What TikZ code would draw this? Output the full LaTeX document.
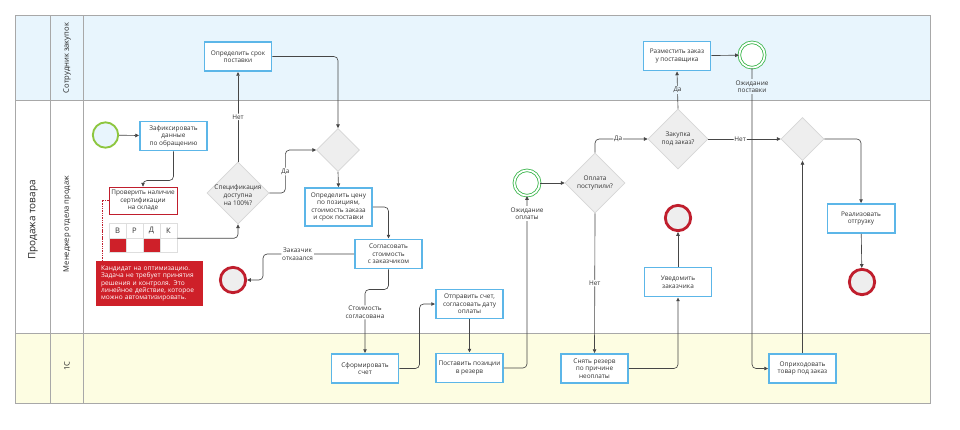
\documentclass[tikz,border=0pt]{standalone}
\usepackage{fontspec}
\setmainfont{Open Sans}
\usetikzlibrary{shapes.geometric,arrows.meta}

\definecolor{laneblue}{RGB}{232,245,253}
\definecolor{laneyellow}{RGB}{253,253,226}
\definecolor{lanegray}{RGB}{168,168,168}
\definecolor{taskblue}{RGB}{92,182,232}
\definecolor{gatefill}{RGB}{238,238,238}
\definecolor{gatedraw}{RGB}{214,214,214}
\definecolor{flowgray}{RGB}{70,70,70}
\definecolor{startgreen}{RGB}{141,198,63}
\definecolor{waitgreen}{RGB}{57,181,74}
\definecolor{endred}{RGB}{192,30,45}
\definecolor{notered}{RGB}{206,32,41}
\definecolor{racigray}{RGB}{222,222,222}

\newcommand\tasksize{\fontsize{5.5}{6.5}\selectfont}

\tikzset{
  lane/.style={draw=lanegray, line width=0.8pt},
  pooltitle/.style={font=\fontsize{8.5}{10}\selectfont, text=black!85},
  lanetitle/.style={font=\fontsize{6.5}{8}\selectfont, text=black!85},
  task/.style={rectangle, draw=taskblue, line width=1.4pt, fill=white,
    minimum width=20.2mm, minimum height=8.8mm, align=center, inner sep=1pt, text=black!80},
  gate/.style={diamond, draw=gatedraw, line width=0.6pt, fill=gatefill,
    minimum width=18mm, minimum height=18mm, inner sep=0pt},
  smallgate/.style={gate, minimum width=12.9mm, minimum height=12.9mm},
  gatetext/.style={align=center, inner sep=0pt, text=black!80},
  startev/.style={circle, draw=startgreen, line width=1.6pt, fill=laneblue,
    minimum size=7.6mm, inner sep=0pt},
  endev/.style={circle, draw=endred, line width=2.4pt, fill=gatefill,
    minimum size=7.6mm, inner sep=0pt},
  waitev/.style={circle, draw=waitgreen, line width=0.7pt, double=white,
    double distance=1.5pt, fill=white, minimum size=7.6mm, inner sep=0pt},
  check/.style={rectangle, draw=endred, line width=0.8pt, fill=white,
    minimum width=20.4mm, minimum height=8.1mm, align=center, inner sep=1pt, text=black!80},
  racihead/.style={rectangle, draw=racigray, line width=0.5pt, fill=white,
    minimum width=5.1mm, minimum height=4.5mm, inner sep=0pt, text=black!80,
    font=\fontsize{6.5}{7}\selectfont},
  racicell/.style={rectangle, draw=racigray, line width=0.5pt, fill=white,
    minimum width=5.1mm, minimum height=4.2mm, inner sep=0pt},
  note/.style={rectangle, fill=notered, text=white, text width=29mm,
    inner xsep=1.55mm, minimum height=13.5mm, align=left,
    font=\fontsize{5.6}{6.1}\selectfont},
  annot/.style={draw=endred, line width=0.5pt, dash pattern=on 1.2pt off 0.8pt},
  flow/.style={draw=flowgray, line width=0.55pt, -{Triangle[length=3.2pt,width=3pt]},
    rounded corners=3.5pt},
  lbl/.style={fill=white, inner sep=0.8pt, align=center, text=black!80},
  lblblue/.style={lbl, fill=laneblue}
}

\begin{document}
\begin{tikzpicture}[x=0.3mm,y=-0.3mm]
\useasboundingbox (0,0) rectangle (960,429);
{\tasksize

% Filling lanes
\fill [laneblue] (15,15) rectangle (930,100);%
\fill [white] (15,100) rectangle (930,333);%
\fill [laneyellow] (15,333) rectangle (930,403);%

% Drawing lane borders
\draw [lane] (15,15) rectangle (930,403);%
\draw [lane] (50,15) -- (50,403);%
\draw [lane] (83,15) -- (83,403);%
\draw [lane] (15,100) -- (930,100);%
\draw [lane] (15,333) -- (930,333);%

% Marking pool and lane titles
\draw (33,220) node [pooltitle, rotate=90] (pool) {Продажа товара};%
\draw (67,58) node [lanetitle, rotate=90] (laneA) {Сотрудник закупок};%
\draw (67,224) node [lanetitle, rotate=90] (laneB) {Менеджер отдела продаж};%
\draw (67,366) node [lanetitle, rotate=90] (laneC) {1С};%

% Marking tasks
\draw (173.5,136) node [task] (fix) {Зафиксировать\\данные\\по обращению};%
\draw (238,56.5) node [task] (srok) {Определить срок\\поставки};%
\draw (338.5,207) node [task, minimum height=11.4mm] (price) {Определить цену\\по позициям,\\стоимость заказа\\и срок поставки};%
\draw (388.5,254) node [task] (sogl) {Согласовать\\стоимость\\с заказчиком};%
\draw (365,368.5) node [task] (form) {Сформировать\\счет};%
\draw (469.5,304) node [task] (send) {Отправить счет,\\согласовать дату\\оплаты};%
\draw (469.5,368) node [task] (rezerv) {Поставить позиции\\в резерв};%
\draw (594.5,368.5) node [task] (unres) {Снять резерв\\по причине\\неоплаты};%
\draw (678,282) node [task] (notify) {Уведомить\\заказчика};%
\draw (677,56) node [task] (order) {Разместить заказ\\у поставщика};%
\draw (861,218.5) node [task] (ship) {Реализовать\\отгрузку};%
\draw (802.5,368.5) node [task] (income) {Оприходовать\\товар под заказ};%

% Marking gateways
\draw (238,193) node [gate, minimum width=18.6mm, minimum height=18.6mm] (spec) {};%
\draw (238,195) node [gatetext] (spectxt) {Спецификация\\доступна\\на 100\%?};%
\draw (338,150) node [smallgate] (merge1) {};%
\draw (595,183) node [gate] (pay) {};%
\draw (pay) node [gatetext] (paytxt) {Оплата\\поступили?};%
\draw (678,139) node [gate] (zak) {};%
\draw (zak) node [gatetext] (zaktxt) {Закупка\\под заказ?};%
\draw (802.5,139) node [smallgate] (merge2) {};%

% Marking events
\draw (105.5,135) node [startev] (start) {};%
\draw (233,280) node [endev] (end1) {};%
\draw (678,218) node [endev] (end2) {};%
\draw (862,282) node [endev] (end3) {};%
\draw (527,183) node [waitev] (wait1) {};%
\draw (752,55) node [waitev] (wait2) {};%

% Marking check with RACI table
\draw (143,200.5) node [check] (check) {Проверить наличие\\сертификации\\на складе};%
\draw (117.5,230.5) node [racihead] (hV) {В};%
\draw (134.5,230.5) node [racihead] (hR) {Р};%
\draw (151.5,230.5) node [racihead] (hD) {Д};%
\draw (168.5,230.5) node [racihead] (hK) {К};%
\draw (117.5,245) node [racicell, fill=notered] (cV) {};%
\draw (134.5,245) node [racicell] (cR) {};%
\draw (151.5,245) node [racicell, fill=notered] (cD) {};%
\draw (168.5,245) node [racicell] (cK) {};%

% Marking note
\draw (149.5,283.5) node [note] (note) {Кандидат на оптимизацию.\\Задача не требует принятия\\решения и контроля. Это\\линейное действие, которое\\можно автоматизировать.};%
\coordinate (notetop) at (102,261);%
\draw [annot] (check.west) -| (notetop);%

% Drawing flows
\draw [flow] (start) -- (fix);%
\draw [flow] (fix.south) -- ++(0,29) -| (check.north);%
\draw [flow] (hK.south east) -| (spec.south);%
\draw [flow] (spec.north) -- node [lbl] {Нет} (srok.south);%
\draw [flow] (spec.east) -- ++(16,0) |- node [lbl, pos=0.25] {Да} (merge1.west);%
\draw [flow] (srok.east) -| (merge1.north);%
\draw [flow] (merge1.south) -- (price.north);%
\draw [flow] (price.east) -| (sogl.north);%
\draw [flow] (sogl.west) -- node [lbl, pos=0.62] {Заказчик\\отказался} ++(-91,0) |- (end1.east);%
\draw [flow] (sogl.south) -- ++(0,20) -| node [lbl, pos=0.68] {Стоимость\\согласована} (form.north);%
\draw [flow] (form.east) -- ++(20,0) |- (send.west);%
\draw [flow] (send) -- (rezerv);%
\draw [flow] (rezerv.east) -| (wait1.south);%
\draw [flow] (wait1) -- (pay);%
\draw [flow] (pay.north) |- node [lbl, pos=0.72] {Да} (zak.west);%
\draw [flow] (zak.north) -- node [lblblue] {Да} (order.south);%
\draw [flow] (order) -- (wait2);%
\draw [flow] (wait2.south) |- (income.west);%
\draw [flow] (zak.east) -- node [lbl, pos=0.44] {Нет} (merge2.west);%
\draw [flow] (merge2.east) -| (ship.north);%
\draw [flow] (ship) -- (end3);%
\draw [flow] (income.north) -- (merge2.south);%
\draw [flow] (pay.south) -- node [lbl] {Нет} (unres.north);%
\draw [flow] (unres.east) -| (notify.south);%
\draw [flow] (notify) -- (end2);%

% Marking event labels
\draw (527,213.5) node [lbl] (wait1lbl) {Ожидание\\оплаты};%
\draw (752,86.5) node [lblblue] (wait2lbl) {Ожидание\\поставки};%
}
\end{tikzpicture}
\end{document}
